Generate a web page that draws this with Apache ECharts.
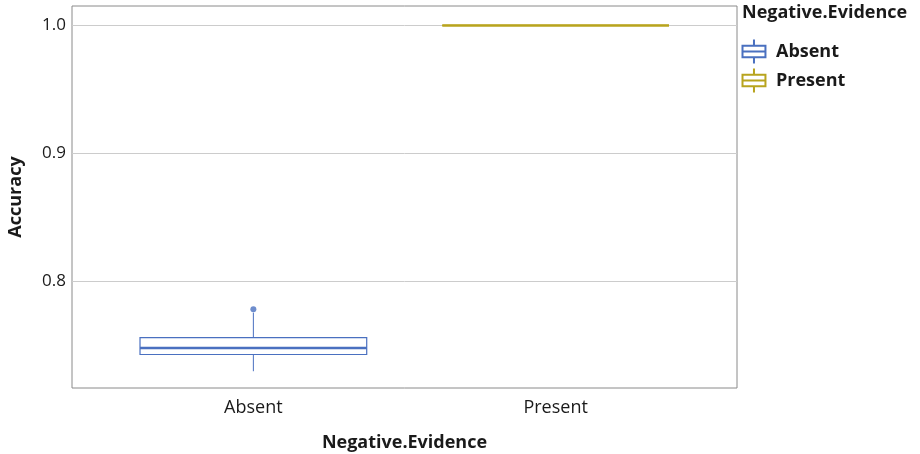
<!DOCTYPE html>
<html>
<head>
<meta charset="utf-8">
<script src="https://cdn.jsdelivr.net/npm/echarts@6/dist/echarts.min.js"></script>
<style>
  html, body { margin: 0; padding: 0; background: #ffffff; }
  #chart { width: 920px; height: 454px; }
</style>
</head>
<body>
<div id="chart"></div>
<script>
// Groups along the x axis (placed at positions 1 and 2)
const categories = ['Absent', 'Present'];
const categoryPos = [1, 2];
// Box statistics per group: [lower whisker, Q1, median, Q3, upper whisker]
const absentStats = [0.7297, 0.7428, 0.7479, 0.7560, 0.7755];
const presentStats = [1.0, 1.0, 1.0, 1.0, 1.0];
// Points beyond the whiskers
const absentOutliers = [0.7781];
const presentOutliers = [];
// Y tick labels
const yTicks = [0.8, 0.9, 1.0];

const colors = { Absent: '#4a70c0', Present: '#b8a41e' };
const BOX_HALF = 0.375;
const FONT = '"Open Sans", "Noto Sans", sans-serif';
const TEXT = '#1a1a1a';

function renderBox(params, api) {
  const x = api.value(0);
  const lo = api.coord([x, api.value(1)]);
  const q1 = api.coord([x, api.value(2)]);
  const med = api.coord([x, api.value(3)]);
  const q3 = api.coord([x, api.value(4)]);
  const hi = api.coord([x, api.value(5)]);
  const half = api.size([BOX_HALF, 0])[0];
  const color = api.visual('color');
  const thin = { stroke: color, lineWidth: 1, fill: null };
  return {
    type: 'group',
    children: [
      { type: 'line', shape: { x1: hi[0], y1: hi[1], x2: q3[0], y2: q3[1] }, style: thin },
      { type: 'line', shape: { x1: q1[0], y1: q1[1], x2: lo[0], y2: lo[1] }, style: thin },
      { type: 'rect', shape: { x: q3[0] - half, y: q3[1], width: half * 2, height: q1[1] - q3[1] },
        style: { stroke: color, lineWidth: 1.2, fill: '#ffffff' } },
      { type: 'line', shape: { x1: med[0] - half, y1: med[1], x2: med[0] + half, y2: med[1] },
        style: { stroke: color, lineWidth: 2.6 } }
    ]
  };
}

const boxIcon = 'path://M11,0 V6 M0,6 H22 V17 H0 Z M0,11.5 H22 M11,17 V23';

const option = {
  animation: false,
  backgroundColor: '#ffffff',
  title: {
    text: 'Negative.Evidence',
    left: 742, top: 4, padding: 0,
    textStyle: { fontFamily: FONT, fontWeight: 'bold', fontSize: 18, color: TEXT }
  },
  legend: {
    orient: 'vertical', left: 740, top: 37, padding: 0,
    itemWidth: 24, itemHeight: 24, itemGap: 0,
    data: [
      { name: 'Absent', icon: boxIcon, itemStyle: { color: 'none', borderColor: colors.Absent, borderWidth: 2 } },
      { name: 'Present', icon: boxIcon, itemStyle: { color: 'none', borderColor: colors.Present, borderWidth: 2 } }
    ],
    textStyle: { fontFamily: FONT, fontWeight: 'bold', fontSize: 18, color: TEXT, padding: [0, 0, 0, 5] }
  },
  grid: {
    left: 72, top: 6, right: 183, bottom: 66,
    outerBoundsMode: 'none',
    show: true, borderColor: '#8a8a8a', borderWidth: 1, backgroundColor: '#ffffff'
  },
  xAxis: {
    type: 'value', min: 0.4, max: 2.6,
    name: 'Negative.Evidence', nameLocation: 'middle', nameGap: 46,
    nameTextStyle: { fontFamily: FONT, fontWeight: 'bold', fontSize: 18, color: TEXT },
    axisLine: { show: false },
    axisTick: { show: false, customValues: categoryPos },
    splitLine: { show: false },
    axisLabel: {
      customValues: categoryPos, margin: 11,
      fontFamily: FONT, fontSize: 18, color: TEXT,
      formatter: v => categories[categoryPos.indexOf(v)]
    }
  },
  yAxis: {
    type: 'value', min: 0.7166, max: 1.0152,
    name: 'Accuracy', nameLocation: 'middle', nameGap: 47,
    nameTextStyle: { fontFamily: FONT, fontWeight: 'bold', fontSize: 18, color: TEXT },
    axisLine: { show: false },
    axisTick: { show: false, customValues: yTicks },
    splitLine: { show: true, lineStyle: { color: '#cccccc', width: 1 } },
    axisLabel: {
      customValues: yTicks, margin: 6,
      fontFamily: FONT, fontSize: 17, color: TEXT,
      formatter: v => v.toFixed(1)
    }
  },
  series: [
    {
      name: 'Absent', type: 'custom', renderItem: renderBox,
      itemStyle: { color: colors.Absent },
      encode: { x: 0, y: [1, 2, 3, 4, 5] },
      data: [[categoryPos[0]].concat(absentStats)], z: 3
    },
    {
      name: 'Present', type: 'custom', renderItem: renderBox,
      itemStyle: { color: colors.Present },
      encode: { x: 0, y: [1, 2, 3, 4, 5] },
      data: [[categoryPos[1]].concat(presentStats)], z: 3
    },
    {
      name: 'Absent', type: 'scatter', symbolSize: 6,
      itemStyle: { color: colors.Absent },
      data: absentOutliers.map(v => [categoryPos[0], v]), z: 4
    },
    {
      name: 'Present', type: 'scatter', symbolSize: 6,
      itemStyle: { color: colors.Present },
      data: presentOutliers.map(v => [categoryPos[1], v]), z: 4
    }
  ]
};

echarts.init(document.getElementById('chart'), null, { renderer: 'canvas' }).setOption(option);
</script>
</body>
</html>
